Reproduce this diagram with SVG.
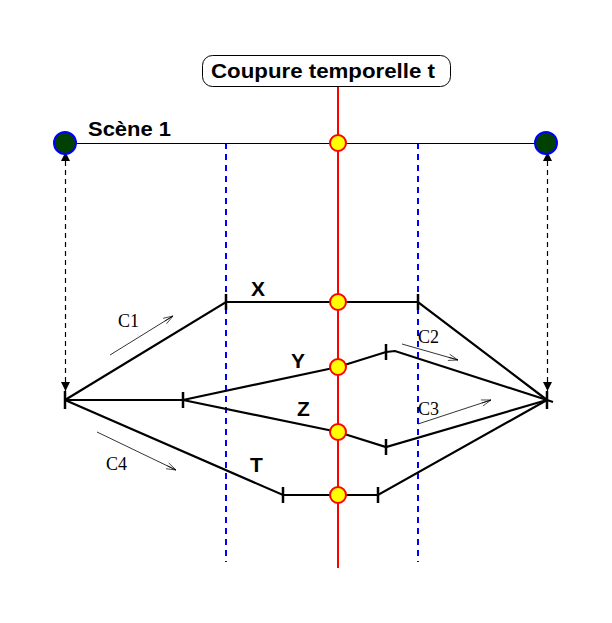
<svg xmlns="http://www.w3.org/2000/svg" width="612" height="623" viewBox="0 0 612 623">
<defs>
<style>
.lbl{font-family:"Liberation Sans",Arial,sans-serif;font-weight:bold;font-size:21px;fill:#000}
.c{font-family:"Liberation Serif","Times New Roman",serif;font-size:18px;fill:#000}
.path{fill:none;stroke:#000;stroke-width:2.2}
.tick{stroke:#000;stroke-width:2.5}
.blue{stroke:#0000ff;stroke-width:2;stroke-dasharray:6,5}
.dash{stroke:#000;stroke-width:1.2;stroke-dasharray:5,4;fill:none}
.thin{stroke:#000;stroke-width:0.8;fill:none}
.y{fill:#ffff00;stroke:#ff0000;stroke-width:2}
.g{fill:#004000;stroke:#0000ff;stroke-width:2}
</style>
<marker id="tri" viewBox="0 0 10 10" refX="10" refY="5" markerWidth="9" markerHeight="10" markerUnits="userSpaceOnUse" orient="auto-start-reverse"><path d="M0,0 L10,5 L0,10 Z" fill="#000"/></marker>
<marker id="open" viewBox="0 0 12 10" refX="12" refY="5" markerWidth="12" markerHeight="8" markerUnits="userSpaceOnUse" orient="auto"><path d="M0,1 L12,5 L0,9 M0,5 L12,5" fill="none" stroke="#000" stroke-width="0.8"/></marker>
</defs>
<rect width="612" height="623" fill="#fff"/>
<g id="guides">
<line x1="226" y1="143" x2="226" y2="562" class="blue"/>
<line x1="418" y1="143" x2="418" y2="562" class="blue"/>
<line x1="338" y1="87" x2="338" y2="568" stroke="#ff0000" stroke-width="2"/>
</g>
<g id="title">
<rect x="202.5" y="55.5" width="248" height="31" rx="10" fill="#fff" stroke="#000" stroke-width="1"/>
<text x="211" y="78" class="lbl" textLength="224" lengthAdjust="spacingAndGlyphs">Coupure temporelle t</text>
</g>
<g id="connectors">
<line x1="65" y1="143.5" x2="546" y2="143.5" stroke="#000" stroke-width="1.2"/>
<line x1="65.5" y1="152" x2="65.5" y2="391" class="dash" marker-start="url(#tri)" marker-end="url(#tri)"/>
<line x1="547.5" y1="152" x2="547.5" y2="391" class="dash" marker-start="url(#tri)" marker-end="url(#tri)"/>
<polyline points="65,400 226,302 418,302 547,400" class="path"/>
<line x1="65" y1="400" x2="183" y2="400" class="path"/>
<polyline points="183,400 338,367 386,352 395,351 547,400 553,402" class="path"/>
<polyline points="183,400 338,432 386,447 547,400" class="path"/>
<polyline points="65,400 283,495 378,495 547,400" class="path"/>
<line x1="65" y1="391" x2="65" y2="409" class="tick"/>
<line x1="547" y1="391" x2="547" y2="409" class="tick"/>
<line x1="183" y1="392" x2="183" y2="408" class="tick"/>
<line x1="226" y1="294" x2="226" y2="310" class="tick"/>
<line x1="418" y1="294" x2="418" y2="310" class="tick"/>
<line x1="386" y1="344" x2="386" y2="360" class="tick"/>
<line x1="386" y1="439" x2="386" y2="455" class="tick"/>
<line x1="283" y1="487" x2="283" y2="503" class="tick"/>
<line x1="378" y1="487" x2="378" y2="503" class="tick"/>
<line x1="110" y1="355" x2="173" y2="316" class="thin" marker-end="url(#open)"/>
<line x1="97" y1="432" x2="176" y2="470" class="thin" marker-end="url(#open)"/>
<line x1="402" y1="344" x2="458" y2="360" class="thin" marker-end="url(#open)"/>
<line x1="418" y1="424" x2="491" y2="400" class="thin" marker-end="url(#open)"/>
</g>
<g id="scene1">
<circle cx="65" cy="143" r="11" class="g"/>
<circle cx="546" cy="143" r="11" class="g"/>
<text x="88" y="136" class="lbl" font-size="22" textLength="83" lengthAdjust="spacingAndGlyphs">Scène 1</text>
</g>
<g id="points">
<circle cx="338" cy="143" r="8" class="y"/>
<circle cx="338" cy="302" r="8" class="y"/>
<circle cx="338" cy="367" r="8" class="y"/>
<circle cx="338" cy="432" r="8" class="y"/>
<circle cx="338" cy="495" r="8" class="y"/>
</g>
<g id="labels">
<text x="251" y="296" class="lbl">X</text>
<text x="291" y="368" class="lbl">Y</text>
<text x="297" y="416" class="lbl">Z</text>
<text x="250" y="472" class="lbl">T</text>
<text x="118" y="327" class="c">C1</text>
<text x="418" y="343" class="c">C2</text>
<text x="418" y="415" class="c">C3</text>
<text x="106" y="470" class="c">C4</text>
</g>
</svg>
